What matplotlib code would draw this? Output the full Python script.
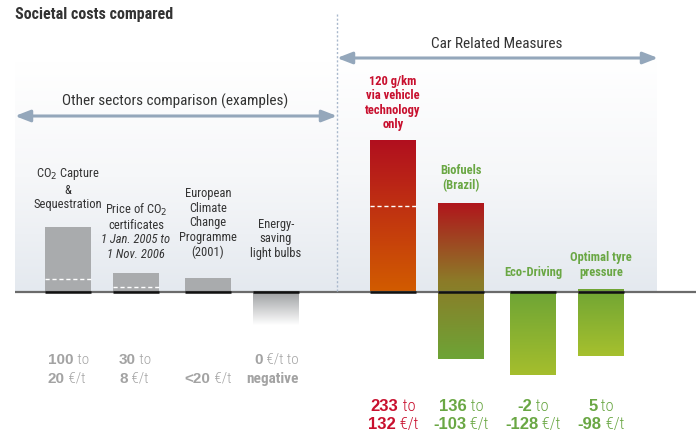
import numpy as np
import matplotlib
matplotlib.use("Agg")
import matplotlib.pyplot as plt
from matplotlib import font_manager as fm
from matplotlib.colors import LinearSegmentedColormap

# pick a condensed face if one is installed
have = {(f.name, f.stretch) for f in fm.fontManager.ttflist}
names = {n for n, s in have}
font = None
for cand in ['Roboto Condensed', 'Liberation Sans Narrow', 'Open Sans Condensed',
             'Noto Sans Condensed', 'DejaVu Sans Condensed']:
    if cand in names:
        font = cand
        break
stretch = 'normal'
if font is None:
    for n, s in have:
        if n in ('DejaVu Sans', 'Noto Sans', 'Open Sans', 'Roboto') and s in ('condensed', 'semi-condensed', 500, 300):
            font, stretch = n, 'condensed'
            break
if font is None:
    font = 'Roboto'
plt.rcParams['font.family'] = [font, 'DejaVu Sans']
plt.rcParams['font.stretch'] = stretch
NUMFONT = ['Liberation Sans', 'DejaVu Sans']

# values in EUR/t (bar top / bar bottom / dashed line for the lower bound)
labels = ['CO$_2$ Capture\n&\nSequestration', 'Price of CO$_2$\ncertificates',
          'European\nClimate\nChange\nProgramme\n(2001)', 'Energy-\nsaving\nlight bulbs',
          '120 g/km\nvia vehicle\ntechnology\nonly', 'Biofuels\n(Brazil)',
          'Eco-Driving', 'Optimal tyre\npressure']
bar_top = [100, 30, 21, 0, 233, 136, -2, 5]
bar_bottom = [0, 0, 0, -50, 0, -103, -128, -98]
dashed = [20, 8, None, None, 132, None, None, None]
range_hi = ['100', '30', None, '0', '233', '136', '-2', '5']
range_lo = ['20', '8', '<20', 'negative', '132', '-103', '-128', '-98']

# layout (pixels)
W, H = 696, 431
zero_px = 293
scale = 0.65  # px per EUR/t
centers = [68, 136, 208, 276, 393, 461, 533, 601]
bw = 46
# anchor and alignment of the range labels
range_x = [48, 119, 208, 299, 393, 461, 533, 601]
range_al = ['left', 'left', 'center', 'right', 'center', 'center', 'center', 'center']

GRAY = '#a9abad'
RED = '#c8102e'
GREEN = '#6aa744'
GTXT = '#a3a3a3'
ARROW = '#94a7bb'

fig = plt.figure(figsize=(W / 100, H / 100), dpi=100)
ax = fig.add_axes([0, 0, 1, 1])
ax.set_xlim(0, W)
ax.set_ylim(-(H - zero_px) / scale, zero_px / scale)
ax.axis('off')


def v(ypix):
    return (zero_px - ypix) / scale


def grad(x0, x1, ybot, ytop, colors, z=1):
    cmap = LinearSegmentedColormap.from_list('g', colors)
    img = np.linspace(0, 1, 256).reshape(-1, 1)
    ax.imshow(img, cmap=cmap, extent=[x0, x1, ybot, ytop], aspect='auto',
              origin='upper', zorder=z, interpolation='bilinear')


# background panels
grad(15, 337, 0, v(63), ['#ffffff', '#f6f7f9', '#e4e9ef'], z=0)
grad(337, 657, 0, v(60), ['#ffffff', '#f6f7f9', '#e4e9ef'], z=0)

# bars
bar_colors = [GRAY, GRAY, GRAY, ['#9ea0a2', '#ffffff'],
              ['#b10f1f', '#d25c00'], ['#b0161c', '#8c7b28', '#6da436'],
              ['#6fa535', '#a5be2d'], ['#70a534', '#a6c02e']]
for i, c in enumerate(centers):
    x0, x1 = c - bw / 2, c + bw / 2
    col = bar_colors[i]
    if isinstance(col, str):
        ax.bar(c, bar_top[i] - bar_bottom[i], bottom=bar_bottom[i], width=bw,
               color=col, zorder=2)
    else:
        grad(x0, x1, bar_bottom[i], bar_top[i], col, z=2)
    if dashed[i] is not None:
        ax.plot([x0, x1], [dashed[i], dashed[i]], color='white', lw=1,
                ls=(0, (3, 2)), zorder=3)

# baseline
ax.plot([15, W], [0, 0], color='#6b6b6b', lw=1.6, zorder=4, solid_capstyle='butt')
for c in centers:
    ax.plot([c - bw / 2, c + bw / 2], [0, 0], color='#111111', lw=1.8,
            zorder=5, solid_capstyle='butt')

# pixel overlay for text
tx = fig.add_axes([0, 0, 1, 1], facecolor='none')
tx.set_xlim(0, W)
tx.set_ylim(H, 0)
tx.axis('off')

# separator
tx.plot([337, 337], [15, 293], color='#a9b8cc', lw=1, ls=(0, (1.5, 1.5)))

# arrows
tx.annotate('', xy=(15, 117), xytext=(337, 117),
            arrowprops=dict(arrowstyle='<|-|>,head_length=0.9,head_width=0.35',
                            color=ARROW, lw=2.2, shrinkA=0, shrinkB=0))
tx.annotate('', xy=(337, 59), xytext=(658, 59),
            arrowprops=dict(arrowstyle='<|-|>,head_length=0.9,head_width=0.35',
                            color=ARROW, lw=2.2, shrinkA=0, shrinkB=0))
tx.text(175, 101, 'Other sectors comparison (examples)', ha='center', va='center',
        fontsize=11, color='#333333')
tx.text(497, 44, 'Car Related Measures', ha='center', va='center',
        fontsize=11, color='#333333')
tx.text(15, 14, 'Societal costs compared', ha='left', va='center',
        fontsize=11.5, fontweight='bold', color='#333333')

# bar labels
fs = 9
ls = 1.15
tx.text(68, 189, labels[0], ha='center', va='center', fontsize=fs,
        color='#333333', linespacing=ls)
tx.text(136, 217, labels[1], ha='center', va='center', fontsize=fs,
        color='#333333', linespacing=ls)
tx.text(136, 247, '1 Jan. 2005 to\n1 Nov. 2006', ha='center', va='center',
        fontsize=fs, color='#333333', style='italic', linespacing=ls)
tx.text(208, 223, labels[2], ha='center', va='center', fontsize=fs,
        color='#333333', linespacing=ls)
tx.text(276, 239, labels[3], ha='center', va='center', fontsize=fs,
        color='#333333', linespacing=ls)
tx.text(393, 103, labels[4], ha='center', va='center', fontsize=fs,
        color=RED, fontweight='bold', linespacing=ls)
tx.text(461, 178, labels[5], ha='center', va='center', fontsize=fs,
        color=GREEN, fontweight='bold', linespacing=ls)
tx.text(533, 273, labels[6], ha='center', va='center', fontsize=fs,
        color=GREEN, fontweight='bold', linespacing=ls)
tx.text(601, 265, labels[7], ha='center', va='center', fontsize=fs,
        color=GREEN, fontweight='bold', linespacing=ls)

# range labels: wide bold numbers, condensed units
renderer = fig.canvas.get_renderer()


def mixed(xa, y, parts, color, size, align):
    objs = []
    for s, kind in parts:
        kw = dict(fontweight='bold', family=NUMFONT) if kind == 'num' else \
            dict(fontweight='bold') if kind == 'bold' else dict(fontweight='light')
        objs.append(tx.text(0, y, s, ha='left', va='baseline', fontsize=size,
                            color=color, **kw))
    widths = [o.get_window_extent(renderer).width for o in objs]
    total = sum(widths)
    x = {'left': xa, 'center': xa - total / 2, 'right': xa - total}[align]
    for o, wd in zip(objs, widths):
        o.set_x(x)
        x += wd


for i in range(len(centers)):
    col = GTXT if i < 4 else (RED if i == 4 else GREEN)
    size = 11 if i < 4 else 12
    y1, y2 = (364, 383) if i < 4 else (411, 429)
    hi, lo = range_hi[i], range_lo[i]
    xa, al = range_x[i], range_al[i]
    if hi is not None:
        if hi == '0':
            mixed(xa, y1, [(hi, 'num'), (' €/t to', 'u')], col, size, al)
        else:
            mixed(xa, y1, [(hi, 'num'), (' to', 'u')], col, size, al)
    if lo == 'negative':
        mixed(xa, y2, [(lo, 'bold')], col, size, al)
    else:
        mixed(xa, y2, [(lo, 'num'), (' €/t', 'u')], col, size, al)

fig.savefig('out.png', dpi=100)
